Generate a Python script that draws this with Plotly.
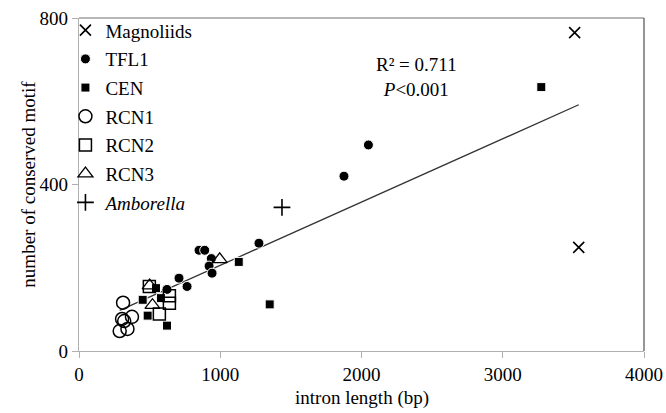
import plotly.graph_objects as go

# ---- data ----
magnoliids_x = [3509, 3538]
magnoliids_y = [765, 249]

tfl1_x = [850, 890, 937, 921, 942, 708, 765, 623, 1274, 1876, 2049]
tfl1_y = [242, 242, 222, 204, 187, 175, 155, 148, 259, 420, 495]

cen_x = [3273, 1131, 1350, 451, 486, 623, 545, 580]
cen_y = [634, 214, 112, 123, 85, 61, 151, 127]

rcn1_x = [312, 305, 375, 343, 288, 320]
rcn1_y = [116, 77, 82, 53, 48, 72]

rcn2_x = [498, 640, 640, 569]
rcn2_y = [155, 133, 115, 89]

rcn3_x = [996, 500, 520]
rcn3_y = [220, 157, 110]

amborella_x = [1437]
amborella_y = [345]

trend_slope = 0.152
trend_intercept = 53.8

x_ticks = [0, 1000, 2000, 3000, 4000]
y_ticks = [0, 400, 800]

FONT = "Liberation Serif, Times New Roman, serif"

fig = go.Figure()

all_x = magnoliids_x + tfl1_x + cen_x + rcn1_x + rcn2_x + rcn3_x + amborella_x
tx = [min(all_x), max(all_x)]
ty = [trend_intercept + trend_slope * v for v in tx]
fig.add_trace(go.Scatter(x=tx, y=ty, mode="lines", line=dict(color="#333333", width=1.3),
                         showlegend=False, hoverinfo="skip"))

def add(name, xs, ys, symbol, size, lw=1.3, color="black", lcolor="black"):
    fig.add_trace(go.Scatter(
        x=xs, y=ys, mode="markers", name=name, legendgroup=name,
        marker=dict(symbol=symbol, size=size, color=color,
                    line=dict(color=lcolor, width=lw))))

add("Magnoliids", magnoliids_x, magnoliids_y, "x-thin-open", 11, lw=1.6)
add("TFL1", tfl1_x, tfl1_y, "circle", 10, lw=1, color="black", lcolor="white")
add("CEN", cen_x, cen_y, "square", 9, lw=1, color="black", lcolor="white")
add("RCN1", rcn1_x, rcn1_y, "circle-open", 13, lw=1.5)
add("RCN2", rcn2_x, rcn2_y, "square-open", 12, lw=1.5)
add("RCN3", rcn3_x, rcn3_y, "triangle-up-open", 13, lw=1.3)
add("<i>Amborella</i>", amborella_x, amborella_y, "cross-thin-open", 12, lw=1.6)

fig.update_layout(
    width=666, height=413,
    margin=dict(l=79, r=22, t=11, b=62),
    paper_bgcolor="white", plot_bgcolor="white",
    font=dict(family=FONT, size=19, color="black"),
    showlegend=True,
    legend=dict(x=-0.024, y=1.02, xanchor="left", yanchor="top",
                bgcolor="rgba(0,0,0,0)", font=dict(family=FONT, size=19),
                tracegroupgap=1, itemwidth=30, maxheight=400),
    annotations=[
        dict(xref="paper", yref="paper", x=0.598, y=0.899,
             text="R² = 0.711<br><i>P</i>&lt;0.001", showarrow=False,
             font=dict(family=FONT, size=19), align="center"),
        dict(xref="paper", yref="paper", x=-0.09, y=0.5, xanchor="center", yanchor="middle",
             text="number of conserved motif", textangle=-90, showarrow=False,
             font=dict(family=FONT, size=19)),
        dict(xref="paper", yref="paper", x=0.5, y=-0.103, xanchor="center", yanchor="top",
             text="intron length (bp)", showarrow=False,
             font=dict(family=FONT, size=19)),
    ],
    shapes=[
        dict(type="line", xref="paper", yref="paper", x0=0, x1=1, y0=1, y1=1,
             line=dict(color="#707070", width=1.2)),
        dict(type="line", xref="paper", yref="paper", x0=1, x1=1, y0=0, y1=1,
             line=dict(color="#505050", width=1.2)),
    ],
)

fig.update_xaxes(range=[0, 4000], tickvals=x_ticks, showgrid=False, zeroline=False,
                 showline=True, linecolor="#b0b0b0", linewidth=1.2,
                 ticks="outside", ticklen=6, tickcolor="#b0b0b0",
                 tickfont=dict(family=FONT, size=19), automargin=False)
fig.update_yaxes(range=[0, 800], tickvals=y_ticks, showgrid=False, zeroline=False,
                 showline=True, linecolor="#b0b0b0", linewidth=1.2,
                 ticks="outside", ticklen=6, tickcolor="#b0b0b0",
                 tickfont=dict(family=FONT, size=19), automargin=False)

fig.write_html("out.html", config={"displayModeBar": False},
               post_script="document.body.style.margin='0';document.body.style.padding='0';")
